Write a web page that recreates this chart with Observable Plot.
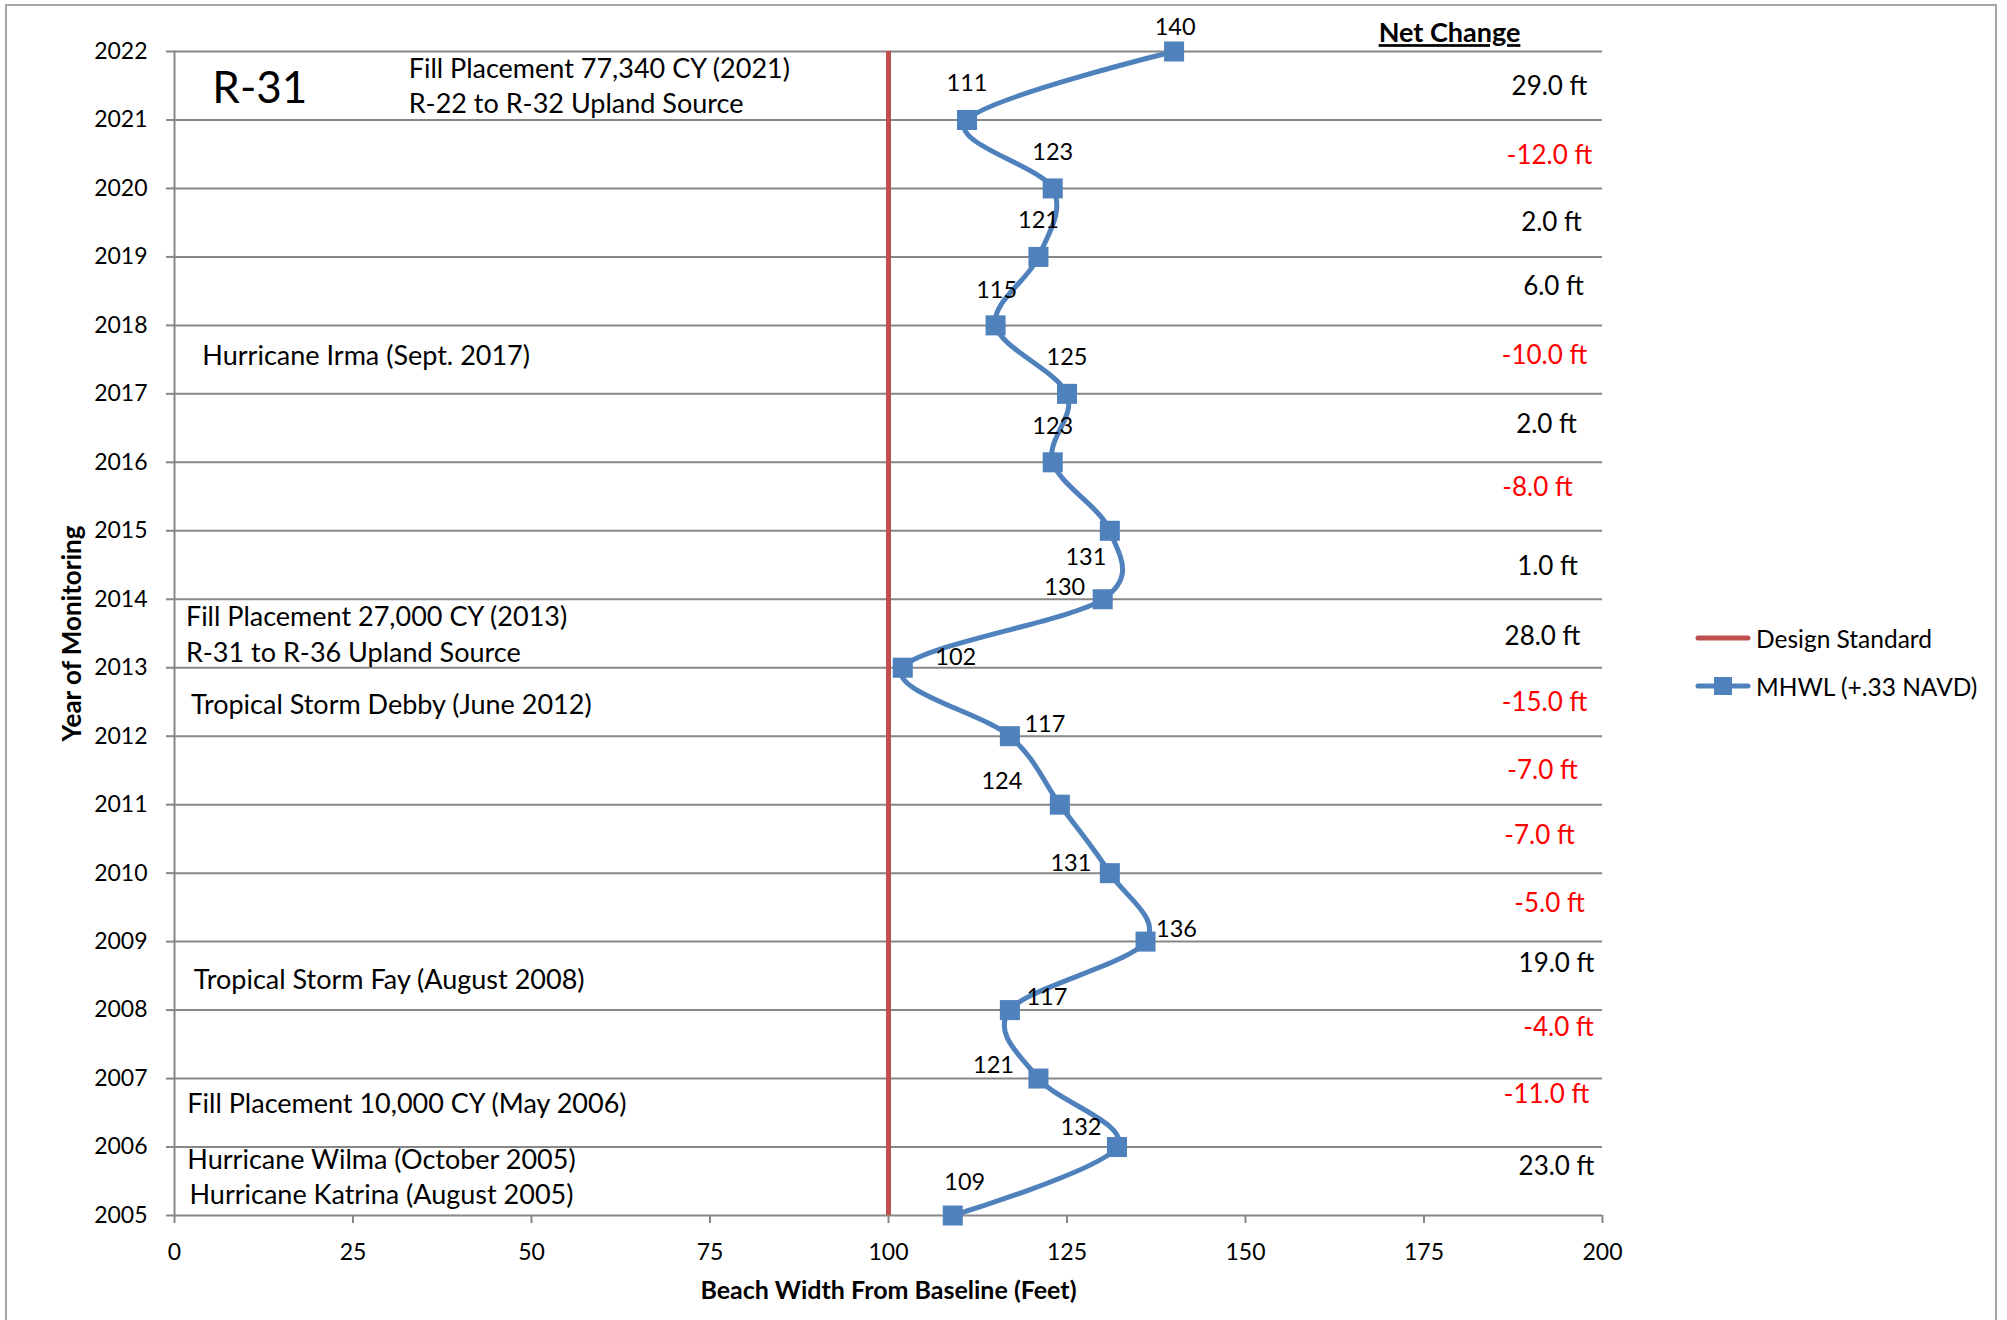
<!DOCTYPE html>
<html>
<head>
<meta charset="utf-8">
<script src="https://cdn.jsdelivr.net/npm/d3@7"></script>
<script src="https://cdn.jsdelivr.net/npm/@observablehq/plot@0.6"></script>
<style>
  html, body { margin: 0; padding: 0; background: #fff; }
  body { width: 2007px; height: 1320px; position: relative; overflow: hidden; font-family: Lato, sans-serif; }
  #frame { position: absolute; left: 5px; top: 4px; width: 1992px; height: 1340px; border: 2px solid #a5a5a5; box-sizing: border-box; }
  #chart { position: absolute; left: 0; top: 0; }
  #legend { position: absolute; left: 1694px; top: 614px; font-size: 24.5px; color: #000; }
  #legend .row { display: flex; align-items: center; height: 48px; }
  #legend svg { margin-right: 4px; }
</style>
</head>
<body>
<div id="frame"></div>
<div id="chart"></div>
<div id="legend"></div>
<script>
// Monitoring years and MHWL beach width (feet from baseline) at profile R-31
const years = [2005, 2006, 2007, 2008, 2009, 2010, 2011, 2012, 2013, 2014, 2015, 2016, 2017, 2018, 2019, 2020, 2021, 2022];
const beachWidth = [109, 132, 121, 117, 136, 131, 124, 117, 102, 130, 131, 123, 125, 115, 121, 123, 111, 140];
const designStandard = 100;
const xTicks = [0, 25, 50, 75, 100, 125, 150, 175, 200];
const seriesNames = ["Design Standard", "MHWL (+.33 NAVD)"];
const profileName = "R-31";
const netChangeTitle = "Net Change";
const yTitle = "Year of Monitoring";
const xTitle = "Beach Width From Baseline (Feet)";

// Event notes, anchored in chart units (feet, year)
const events = [
  {text: "Fill Placement 77,340 CY (2021)", x: 32.8, y: 2021.74},
  {text: "R-22 to R-32 Upland Source", x: 32.8, y: 2021.23},
  {text: "Hurricane Irma (Sept. 2017)", x: 3.9, y: 2017.55},
  {text: "Fill Placement 27,000 CY (2013)", x: 1.6, y: 2013.74},
  {text: "R-31 to R-36 Upland Source", x: 1.6, y: 2013.21},
  {text: "Tropical Storm Debby (June 2012)", x: 2.3, y: 2012.45},
  {text: "Tropical Storm Fay (August 2008)", x: 2.7, y: 2008.44},
  {text: "Fill Placement 10,000 CY (May 2006)", x: 1.8, y: 2006.63},
  {text: "Hurricane Wilma (October 2005)", x: 1.8, y: 2005.80},
  {text: "Hurricane Katrina (August 2005)", x: 2.1, y: 2005.29}
];

// Pixel offsets of each value label from its marker, in year order
const labelOffsets = [
  [12, -33], [-36, -20], [-45, -13], [37, -13], [31, -12], [-39, -10],
  [-58, -23], [35, -12], [53, -10], [-38, -12], [-24, 27], [0, -36],
  [0, -36], [1, -35], [0, -36], [0, -36], [0, -37], [1, -24]
];

// Pixel nudges of each net-change note from the middle of its interval, 2005–06 upward
const changeOffsets = [
  [9, -15], [-1, -18], [11, -17], [9, -12], [2, -4], [-8, -3], [-5, 0], [-3, 1],
  [-5, 3], [0, 2], [-10, -9], [-1, -3], [-3, -4], [6, -4], [4, 0], [2, 1], [2, 1]
];

const blue = "#4F81BD";
const red = "#C0504D";
const grid = "#878787";

const rows = years.map((year, i) => ({year, width: beachWidth[i]}));

// Year-over-year change, shown between consecutive years
const changes = rows.slice(1).map((d, i) => {
  const change = d.width - rows[i].width;
  return {mid: (d.year + rows[i].year) / 2, change, label: `${change.toFixed(1)} ft`};
});

const valueLabels = rows.map((d, i) =>
  Plot.text([d], {
    x: "width", y: "year", text: r => String(r.width),
    dx: labelOffsets[i][0], dy: labelOffsets[i][1], fontSize: 23.5, fill: "#000"
  })
);

const changeLabels = changes.map((d, i) =>
  Plot.text([d], {
    y: "mid", text: "label", frameAnchor: "right",
    dx: -55 + changeOffsets[i][0], dy: changeOffsets[i][1],
    textAnchor: "middle", lineAnchor: "middle", fontSize: 26,
    fill: d.change < 0 ? "#FF0000" : "#000"
  })
);

const chart = Plot.plot({
  width: 2007,
  height: 1320,
  marginLeft: 174,
  marginRight: 405,
  marginTop: 51,
  marginBottom: 105,
  style: {fontFamily: "Lato, sans-serif", fontSize: "23px", color: "#000", background: "transparent", overflow: "visible"},
  x: {domain: [0, 200]},
  y: {domain: [2005, 2022]},
  marks: [
    Plot.gridY(years, {stroke: grid, strokeOpacity: 1, strokeWidth: 2}),
    Plot.ruleX([0], {stroke: grid, strokeWidth: 2}),
    Plot.axisY(years, {tickSize: 8, tickPadding: 19, tickFormat: d => String(d), stroke: grid, strokeWidth: 2, fill: "#000", label: null}),
    Plot.axisX(xTicks, {tickSize: 8, tickPadding: 20, tickFormat: d => String(d), stroke: grid, strokeWidth: 2, fill: "#000", label: null}),
    Plot.ruleX([designStandard], {stroke: red, strokeWidth: 5}),
    Plot.line(rows, {x: "width", y: "year", curve: "cardinal", stroke: blue, strokeWidth: 5, strokeLinejoin: "round"}),
    Plot.dot(rows, {x: "width", y: "year", symbol: "square", r: 11.3, fill: blue}),
    ...valueLabels,
    ...changeLabels,
    Plot.text(events, {x: "x", y: "y", text: "text", textAnchor: "start", lineAnchor: "middle", fontSize: 27, fill: "#000"}),
    Plot.text([{name: profileName, x: 5.3, y: 2021.46}], {x: "x", y: "y", text: "name", textAnchor: "start", lineAnchor: "middle", fontSize: 44, fill: "#000"}),
    Plot.text([netChangeTitle], {text: d => d, frameAnchor: "top-right", dx: -153, dy: -18, textAnchor: "middle", lineAnchor: "middle", fontSize: 27, fontWeight: "bold", fill: "#000"}),
    Plot.text([yTitle], {text: d => d, frameAnchor: "left", rotate: -90, dx: -102, textAnchor: "middle", lineAnchor: "middle", fontSize: 26, fontWeight: "bold", fill: "#000"}),
    Plot.text([xTitle], {text: d => d, frameAnchor: "bottom", dy: 75, textAnchor: "middle", lineAnchor: "middle", fontSize: 25, fontWeight: "bold", fill: "#000"})
  ]
});

d3.select(chart).selectAll("text")
  .filter(function() { return this.textContent === netChangeTitle; })
  .attr("text-decoration", "underline");

document.getElementById("chart").appendChild(chart);

// Legend for the two series
const legendSwatches = [
  `<svg width="58" height="22"><line x1="4" x2="54" y1="11" y2="11" stroke="${red}" stroke-width="5" stroke-linecap="round"/></svg>`,
  `<svg width="58" height="22"><line x1="4" x2="54" y1="11" y2="11" stroke="${blue}" stroke-width="5" stroke-linecap="round"/><rect x="20" y="2" width="18" height="18" fill="${blue}"/></svg>`
];
document.getElementById("legend").innerHTML = seriesNames
  .map((name, i) => `<div class="row">${legendSwatches[i]}<span>${name}</span></div>`)
  .join("");
</script>
</body>
</html>
